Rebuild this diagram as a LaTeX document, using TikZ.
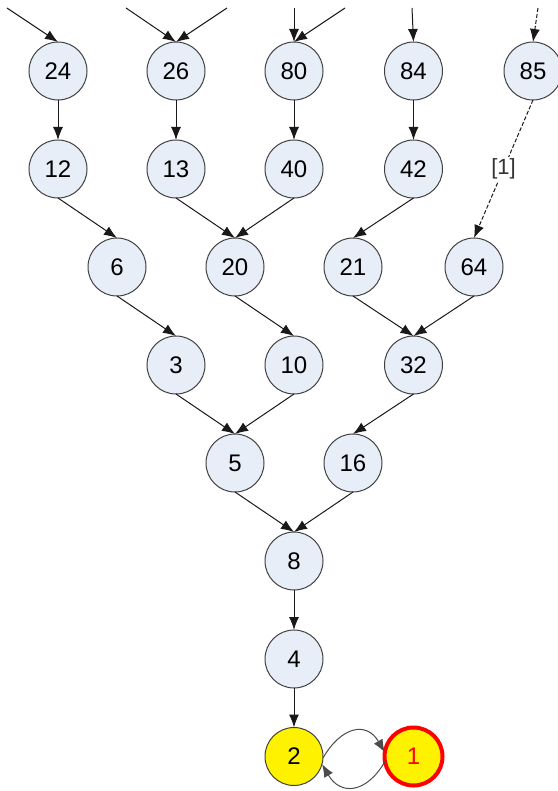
\documentclass[tikz,border=0pt]{standalone}
\usepackage{fontspec}
\setmainfont{Liberation Sans}
\usepackage{xcolor}
\usepackage{tikz}
\usetikzlibrary{matrix,arrows.meta}
\definecolor{nodefill}{HTML}{E8EEF8}
\definecolor{nodeline}{HTML}{404040}

\begin{document}
\begin{tikzpicture}[>={Latex[length=6.5pt,width=5pt]},
    numnode/.style={circle,draw=nodeline,fill=nodefill,line width=0.5pt,
        minimum size=29pt,inner sep=0pt,outer sep=0pt,anchor=center,
        font=\fontsize{12pt}{14pt}\selectfont},
    goal/.style={fill=yellow},
    start/.style={fill=yellow,draw=red,line width=2pt,text=red},
    link/.style={->,line width=0.5pt,draw=black!90}]
    \useasboundingbox (0,0) rectangle (278.5pt,-395.5pt);
            \matrix[
                matrix of nodes,
                matrix anchor=mat-1-1.center,
                column sep=0pt,
                row sep=19.5pt,
                nodes={numnode}
            ] (mat) at (29pt,-35.5pt)
            {
            24 &   & 26 &    & 80 &    & 84 &    & 85 \\
            12 &   & 13 &    & 40 &    & 42 &    &    \\
               & 6 &    & 20 &    & 21 &    & 64 &    \\
               &   & 3  &    & 10 &    & 32 &    &    \\
               &   &    & 5  &    & 16 &    &    &    \\
               &   &    &    & 8  &    &    &    &    \\
               &   &    &    & 4  &    &    &    &    \\[-1pt]
               &   &    &    & |[goal]| 2 & & |[start]| 1 & & \\
            };
            % free ends at the top
            \coordinate (in24) at (3.5pt,-4pt);
            \coordinate (in26a) at (63pt,-4pt);
            \coordinate (in26b) at (113.5pt,-4pt);
            \coordinate (in80a) at (147pt,-4pt);
            \coordinate (in80b) at (172.5pt,-4pt);
            \coordinate (in84) at (206pt,-4pt);
            \coordinate (in85) at (269pt,-4pt);
            \foreach \Src/\Dst in {in24/1-1,in26a/1-3,in26b/1-3,in80a/1-5,in80b/1-5,in84/1-7}
            \draw[link] (\Src) -- (mat-\Dst.north);
            \draw[link,dash pattern=on 2pt off 1pt] (in85) -- (mat-1-9.north);
            % tree edges
            \foreach \Src/\Dst in {1-1/2-1,1-3/2-3,1-5/2-5,1-7/2-7,
                2-1/3-2,2-3/3-4,2-5/3-4,2-7/3-6,
                3-2/4-3,3-4/4-5,3-6/4-7,3-8/4-7,
                4-3/5-4,4-5/5-4,4-7/5-6,
                5-4/6-5,5-6/6-5,6-5/7-5,7-5/8-5}
            \draw[link] (mat-\Src.south) -- (mat-\Dst.north);
            \draw[link,dash pattern=on 2pt off 1pt] (mat-1-9.south) --
                node[fill=white,inner sep=1pt,text=black!80,font=\fontsize{11pt}{13pt}\selectfont] {[1]} (mat-3-8.north);
            % cycle 2 <-> 1
            \draw[link,draw=black!70] (mat-8-5.-3) to[out=60,in=120,looseness=1.5] (mat-8-7.172);
            \draw[link,draw=black!70] (mat-8-7.-170) to[out=-120,in=-60,looseness=1.5] (mat-8-5.-15);
        \end{tikzpicture}
\end{document}
